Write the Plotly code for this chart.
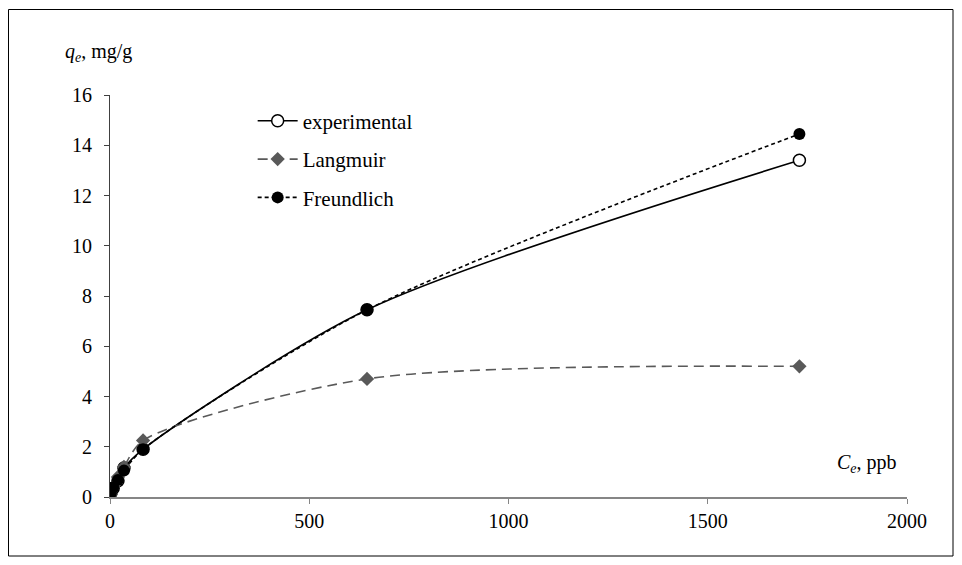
import plotly.graph_objects as go

ce = [2, 8, 20, 35, 83, 645, 1730]
experimental = [0.15, 0.35, 0.65, 1.15, 1.9, 7.45, 13.4]
langmuir = [0.1, 0.4, 0.8, 1.2, 2.25, 4.7, 5.2]
freundlich = [0.15, 0.38, 0.68, 1.05, 1.9, 7.45, 14.45]
x_ticks = [0, 500, 1000, 1500, 2000]
y_ticks = [0, 2, 4, 6, 8, 10, 12, 14, 16]

FONT = "Liberation Serif, Times New Roman, serif"

# page body has an 8px default margin; plot area spans screen x 110..907, y 95..497
PW, PH = 797, 402

fig = go.Figure()
fig.add_trace(go.Scatter(
    x=ce, y=experimental, name="experimental", mode="lines+markers", legendgroup="a",
    line=dict(color="black", width=1.6, shape="spline", smoothing=0.8),
    marker=dict(symbol="circle", size=12, color="white", line=dict(color="black", width=1.5)),
))
fig.add_trace(go.Scatter(
    x=ce, y=langmuir, name="Langmuir", mode="lines+markers", legendgroup="b",
    line=dict(color="#595959", width=1.6, dash="10px,6px", shape="spline", smoothing=0.8),
    marker=dict(symbol="diamond", size=11, color="#595959"),
))
fig.add_trace(go.Scatter(
    x=ce, y=freundlich, name="Freundlich", mode="lines+markers", legendgroup="c",
    line=dict(color="black", width=1.6, dash="4px,3px", shape="spline", smoothing=0.8),
    marker=dict(symbol="circle", size=12, color="black"),
))

fig.update_layout(
    width=946, height=549,
    margin=dict(l=102, r=47, t=87, b=60),
    paper_bgcolor="white", plot_bgcolor="white",
    font=dict(family=FONT, size=20, color="black"),
    showlegend=True,
    legend=dict(x=0.179, y=0.986, xanchor="left", yanchor="top",
                bgcolor="rgba(0,0,0,0)", font=dict(size=21, family=FONT),
                tracegroupgap=8, itemwidth=40),
    xaxis=dict(range=[0, 2000], tickvals=x_ticks, showgrid=False, zeroline=False,
               showline=True, linecolor="#868686", linewidth=1.5,
               ticks="outside", ticklen=5, tickcolor="#868686"),
    yaxis=dict(range=[0, 16], tickvals=y_ticks, showgrid=False, zeroline=False,
               showline=True, linecolor="#404040", linewidth=1.2,
               ticks="outside", ticklen=5, tickcolor="#404040",
               ticklabelstandoff=8),
    annotations=[
        dict(text="<i>q<sub>e</sub></i>, mg/g", xref="paper", yref="paper",
             x=(63 - 110) / PW, y=(497 - 53) / PH, xanchor="left", yanchor="middle",
             showarrow=False, font=dict(size=20, family=FONT)),
        dict(text="<i>C<sub>e</sub></i>, ppb", xref="paper", yref="paper",
             x=(835 - 110) / PW, y=(497 - 463) / PH, xanchor="left", yanchor="middle",
             showarrow=False, font=dict(size=20, family=FONT)),
    ],
    shapes=[
        dict(type="rect", xref="paper", yref="paper",
             x0=(8.5 - 110) / PW, x1=(953 - 110) / PW,
             y0=(497 - 556) / PH, y1=(497 - 9.5) / PH,
             line=dict(color="black", width=1)),
    ],
)

fig.write_html("out.html")
